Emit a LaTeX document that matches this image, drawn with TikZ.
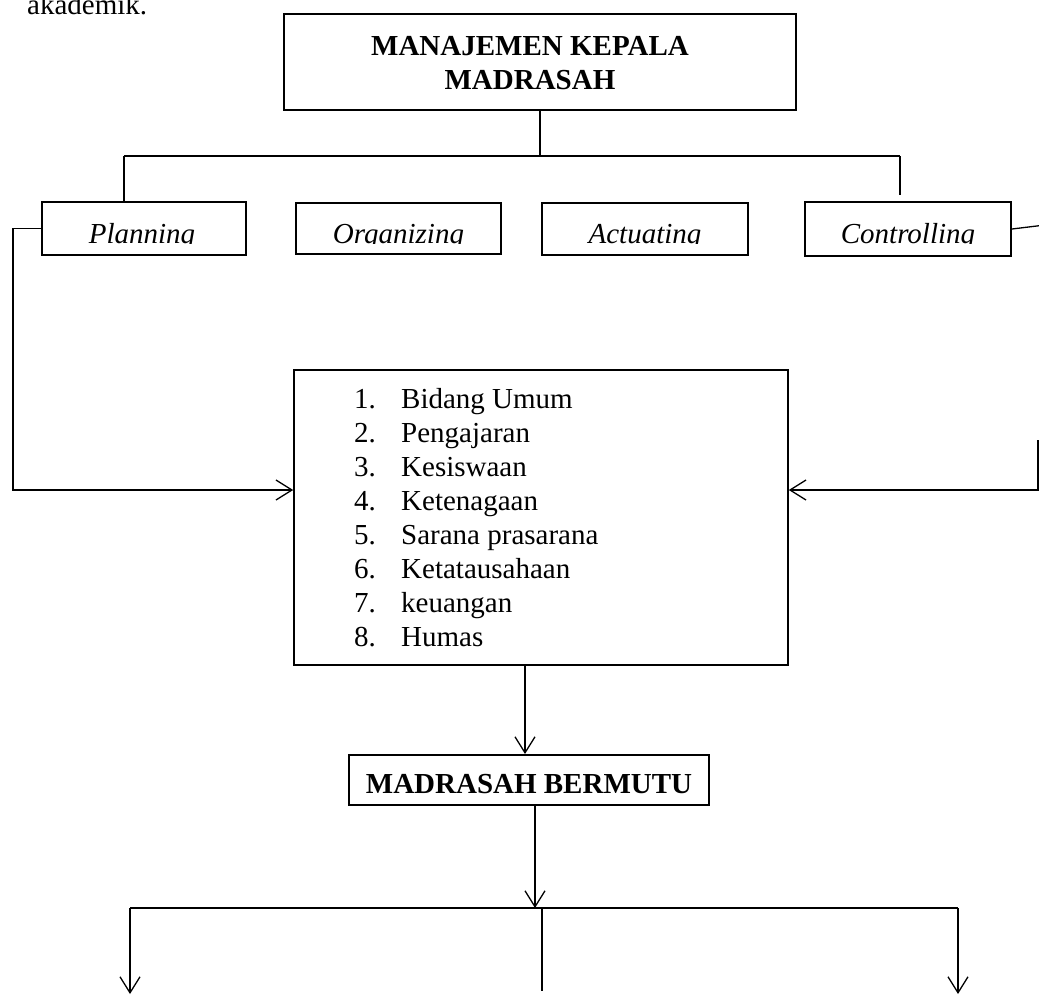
\documentclass[tikz,border=0pt]{standalone}
\usepackage{fontspec}
\setmainfont{Liberation Serif}
\usetikzlibrary{arrows.meta}
\begin{document}
\begin{tikzpicture}[x=1pt,y=-1pt,
  bx/.style={draw=black,line width=2pt,inner sep=0pt},
  ln/.style={draw=black,line width=1.3pt},
  arr/.style={ln,-{Straight Barb[length=16pt,width=20pt,line width=1.3pt]}},
  reg/.style={font=\fontsize{29}{34}\selectfont,inner sep=0pt},
  itl/.style={font=\fontsize{29}{34}\selectfont\itshape,inner sep=0pt,anchor=base},
  bld/.style={font=\fontsize{29}{34}\selectfont\bfseries,inner sep=0pt,anchor=base},
  lst/.style={font=\fontsize{29}{34}\selectfont,inner sep=0pt,anchor=base west}]
\useasboundingbox (0,0) rectangle (1039,994);
\fill[white] (0,0) rectangle (1039,994);
% stray text at top
\node[reg,anchor=base west] (ak) at (27,14) {akademik.};
% top box
\node[bx,minimum width=512pt,minimum height=96pt] (top) at (540,62) {};
\node[bld] (t1) at (530,55) {MANAJEMEN KEPALA};
\node[bld] (t2) at (530,89) {MADRASAH};
% four function boxes
\node[bx,minimum width=204pt,minimum height=53pt] (plan) at (144,228.5) {};
\node[bx,minimum width=205pt,minimum height=51pt] (org) at (398.5,228.5) {};
\node[bx,minimum width=206pt,minimum height=52pt] (act) at (645,229) {};
\node[bx,minimum width=206pt,minimum height=54pt] (ctrl) at (908,229) {};
\begin{scope}
\clip (40,200) rectangle (1015,243);
\node[itl] (plant) at (142,243) {Planning};
\node[itl] (orgt) at (398.5,243) {Organizing};
\node[itl] (actt) at (645,243) {Actuating};
\node[itl] (ctrlt) at (908,243) {Controlling};
\end{scope}
% tree connectors
\coordinate (hl) at (124,156);
\coordinate (hr) at (900,156);
\coordinate (cr) at (900,195);
\draw[ln] (top.south) -- (top.south |- hl);
\draw[ln] (hl) -- (hr);
\draw[ln] (hl) -- (hl |- plan.north);
\draw[ln] (hr) -- (cr);
% list box
\node[bx,line width=1.6pt,minimum width=494pt,minimum height=295pt] (list) at (541,517.5) {};
\node[lst] (n1) at (354,408) {1.};
\node[lst] (n2) at (354,442) {2.};
\node[lst] (n3) at (354,476) {3.};
\node[lst] (n4) at (354,510) {4.};
\node[lst] (n5) at (354,544) {5.};
\node[lst] (n6) at (354,578) {6.};
\node[lst] (n7) at (354,612) {7.};
\node[lst] (n8) at (354,646) {8.};
\node[lst] (i1) at (401,408) {Bidang Umum};
\node[lst] (i2) at (401,442) {Pengajaran};
\node[lst] (i3) at (401,476) {Kesiswaan};
\node[lst] (i4) at (401,510) {Ketenagaan};
\node[lst] (i5) at (401,544) {Sarana prasarana};
\node[lst] (i6) at (401,578) {Ketatausahaan};
\node[lst] (i7) at (401,612) {keuangan};
\node[lst] (i8) at (401,646) {Humas};
% side connectors
\coordinate (lp) at (13,490);
\draw[arr] (plan.west) -| (lp) -- (lp -| list.west);
\coordinate (re) at (1045,225);
\draw[ln] (ctrl.east) -- (re);
\coordinate (rt) at (1038,440);
\coordinate (rp) at (1038,490);
\draw[arr] (rt) -- (rp) -- (rp -| list.east);
% madrasah bermutu
\node[bx,minimum width=360pt,minimum height=50pt] (bm) at (529,780) {};
\node[bld] (bmt) at (529,793) {MADRASAH BERMUTU};
\coordinate (a1) at (525,665);
\draw[arr] (a1) -- (a1 |- bm.north);
% bottom branching
\coordinate (bl) at (130,908);
\coordinate (br) at (958,908);
\coordinate (bc) at (535,908);
\coordinate (bmid) at (542,908);
\draw[arr] (bc |- bm.south) -- (bc);
\draw[ln] (bl) -- (br);
\draw[arr] (bl) -- (130,994);
\draw[arr] (br) -- (958,994);
\draw[ln] (bmid) -- (542,991);
\end{tikzpicture}
\end{document}
